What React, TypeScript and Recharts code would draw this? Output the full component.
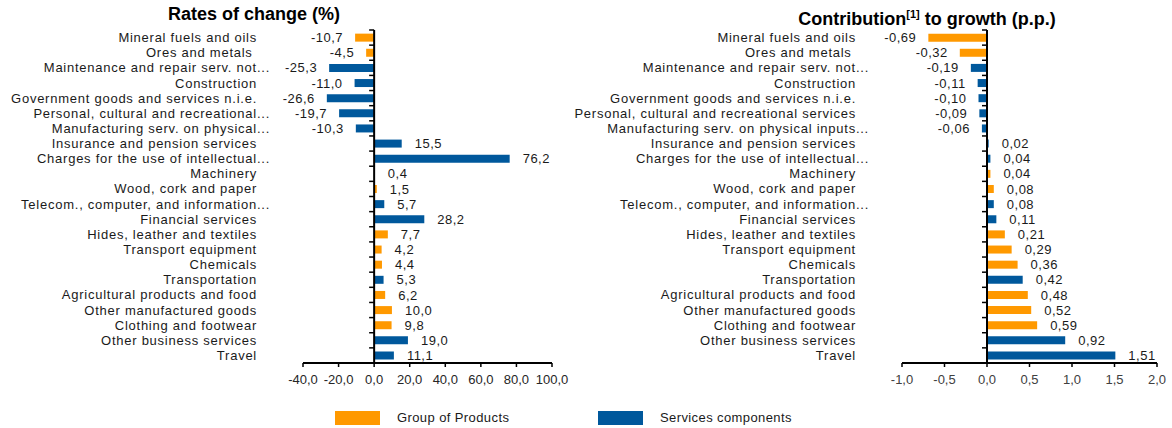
import { BarChart, Bar, XAxis, YAxis, Cell, LabelList, ReferenceLine } from 'recharts';

// P = Group of Products, S = Services components
const rateCategories = [
  'Mineral fuels and oils',
  'Ores and metals ',
  'Maintenance and repair serv. not...',
  'Construction',
  'Government goods and services n.i.e.',
  'Personal, cultural and recreational...',
  'Manufacturing serv. on physical...',
  'Insurance and pension services',
  'Charges for the use of intellectual...',
  'Machinery',
  'Wood, cork and paper',
  'Telecom., computer, and information...',
  'Financial services',
  'Hides, leather and textiles',
  'Transport equipment',
  'Chemicals',
  'Transportation',
  'Agricultural products and food',
  'Other manufactured goods',
  'Clothing and footwear',
  'Other business services',
  'Travel',
];

const contribCategories = [
  'Mineral fuels and oils',
  'Ores and metals ',
  'Maintenance and repair serv. not...',
  'Construction',
  'Government goods and services n.i.e.',
  'Personal, cultural and recreational services',
  'Manufacturing serv. on physical inputs...',
  'Insurance and pension services',
  'Charges for the use of intellectual...',
  'Machinery',
  'Wood, cork and paper',
  'Telecom., computer, and information...',
  'Financial services',
  'Hides, leather and textiles',
  'Transport equipment',
  'Chemicals',
  'Transportation',
  'Agricultural products and food',
  'Other manufactured goods',
  'Clothing and footwear',
  'Other business services',
  'Travel',
];

const groups = ['P', 'P', 'S', 'S', 'S', 'S', 'S', 'S', 'S', 'P', 'P', 'S', 'S', 'P', 'P', 'P', 'S', 'P', 'P', 'P', 'S', 'S'];

const rates = [-10.7, -4.5, -25.3, -11.0, -26.6, -19.7, -10.3, 15.5, 76.2, 0.4, 1.5, 5.7, 28.2, 7.7, 4.2, 4.4, 5.3, 6.2, 10.0, 9.8, 19.0, 11.1];

const contributions = [-0.69, -0.32, -0.19, -0.11, -0.1, -0.09, -0.06, 0.02, 0.04, 0.04, 0.08, 0.08, 0.11, 0.21, 0.29, 0.36, 0.42, 0.48, 0.52, 0.59, 0.92, 1.51];

const rateTicks = [-40, -20, 0, 20, 40, 60, 80, 100];
const contribTicks = [-1, -0.5, 0, 0.5, 1, 1.5, 2];

const legendItems = [
  { key: 'P', label: 'Group of Products' },
  { key: 'S', label: 'Services components' },
];

const ORANGE = '#FF9900';
const BLUE = '#00589C';
const FONT = '"Liberation Sans", Arial, sans-serif';
const colorOf = (g: string) => (g === 'P' ? ORANGE : BLUE);

const fmt = (d: number) => (v: number) => v.toFixed(d).replace('.', ',');

const CHART_H = 400;
const TOP = 30;
const BOTTOM = 7;
const X_AXIS_H = 30;

interface PanelProps {
  labels: string[];
  values: number[];
  decimals: number;
  ticks: number[];
  width: number;
  yWidth: number;
  rightMargin: number;
  tickColor: string;
}

function Panel({ labels, values, decimals, ticks, width, yWidth, rightMargin, tickColor }: PanelProps) {
  const data = labels.map((name, i) => ({ name, value: values[i], group: groups[i] }));
  const domain = [ticks[0], ticks[ticks.length - 1]];
  const plotW = width - yWidth - rightMargin;
  const plotH = CHART_H - TOP - BOTTOM - X_AXIS_H;
  const band = plotH / labels.length;
  const zeroX = yWidth + ((0 - domain[0]) / (domain[1] - domain[0])) * plotW;
  const labelRight = yWidth - 46;
  const format = fmt(decimals);

  const categoryTick = (p: any) => {
    const label: string = p.payload.value;
    const trunc = label.endsWith('...');
    const yTop = p.y - band / 2;
    return (
      <g>
        <line x1={zeroX - 5} x2={zeroX} y1={yTop} y2={yTop} stroke="#000" strokeWidth={1.5} />
        <text
          x={labelRight + (trunc ? 13 : 0)}
          y={p.y}
          dy="0.35em"
          textAnchor="end"
          fontSize={13}
          letterSpacing={0.75}
          fontFamily={FONT}
          fill="#1a1a1a"
          xmlSpace="preserve"
          style={{ whiteSpace: 'pre' }}
        >
          {label}
        </text>
      </g>
    );
  };

  const valueLabel = (p: any) => {
    const { x, y, width: w, height: h, value } = p;
    const v = Number(value);
    const left = Math.min(x, x + w);
    const right = Math.max(x, x + w);
    const neg = v < 0;
    return (
      <text
        x={neg ? left - 12 : right + 13}
        y={y + h / 2}
        dy="0.35em"
        textAnchor={neg ? 'end' : 'start'}
        fontSize={13}
        letterSpacing={0.5}
        fontFamily={FONT}
        fill="#1a1a1a"
      >
        {format(v)}
      </text>
    );
  };

  return (
    <BarChart
      width={width}
      height={CHART_H}
      data={data}
      layout="vertical"
      margin={{ top: TOP, right: rightMargin, bottom: BOTTOM, left: 0 }}
      barCategoryGap="24%"
    >
      <XAxis
        type="number"
        domain={domain}
        ticks={ticks}
        interval={0}
        allowDataOverflow
        height={X_AXIS_H}
        tickFormatter={fmt(1)}
        axisLine={{ stroke: '#000', strokeWidth: 2 }}
        tickLine={{ stroke: '#000', strokeWidth: 1.5 }}
        tickSize={4}
        tickMargin={8}
        tick={{ fontSize: 13, fontFamily: FONT, fill: tickColor }}
      />
      <YAxis
        type="category"
        dataKey="name"
        width={yWidth}
        interval={0}
        axisLine={false}
        tickLine={false}
        tick={categoryTick}
      />
      <Bar dataKey="value" isAnimationActive={false}>
        {data.map((d, i) => (
          <Cell key={i} fill={colorOf(d.group)} />
        ))}
        <LabelList dataKey="value" content={valueLabel} />
      </Bar>
      <ReferenceLine x={0} stroke="#000" strokeWidth={2} />
    </BarChart>
  );
}

export default function App() {
  return (
    <div style={{ position: 'absolute', left: 0, top: 0, width: 1172, height: 428, background: '#fff', fontFamily: FONT }}>
      <div style={{ position: 'absolute', left: 104, top: 3, width: 300, textAlign: 'center', fontSize: 18, fontWeight: 'bold', lineHeight: '22px', color: '#000' }}>
        Rates of change (%)
      </div>
      <div style={{ position: 'absolute', left: 727, top: 3, width: 400, textAlign: 'center', fontSize: 18, fontWeight: 'bold', lineHeight: '22px', color: '#000' }}>
        Contribution<sup style={{ fontSize: 11 }}>[1]</sup> to growth (p.p.)
      </div>
      <div style={{ position: 'absolute', left: 0, top: 0 }}>
        <Panel labels={rateCategories} values={rates} decimals={1} ticks={rateTicks} width={570} yWidth={303} rightMargin={18} tickColor="#262626" />
      </div>
      <div style={{ position: 'absolute', left: 560, top: 0 }}>
        <Panel labels={contribCategories} values={contributions} decimals={2} ticks={contribTicks} width={612} yWidth={342} rightMargin={15} tickColor="#404040" />
      </div>
      {legendItems.map((item, i) => (
        <div key={item.key} style={{ position: 'absolute', left: i === 0 ? 335 : 598, top: 410, height: 16, display: 'flex', alignItems: 'center' }}>
          <div style={{ width: 45, height: 14, background: colorOf(item.key) }} />
          <span style={{ marginLeft: 17, fontSize: 13, letterSpacing: 0.4, lineHeight: '16px', color: '#1a1a1a' }}>{item.label}</span>
        </div>
      ))}
    </div>
  );
}
